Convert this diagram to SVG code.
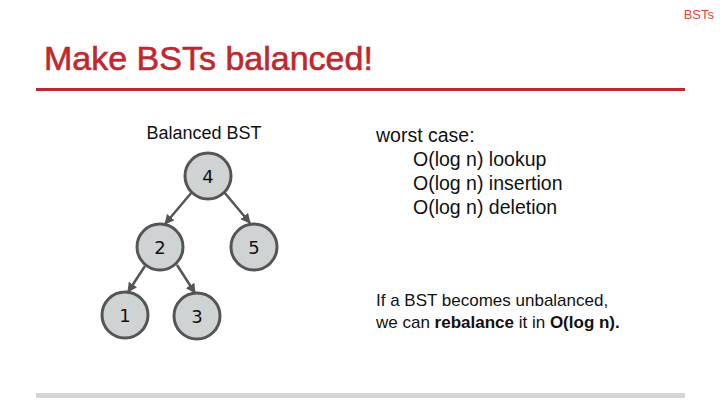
<svg xmlns="http://www.w3.org/2000/svg" width="720" height="405" viewBox="0 0 720 405">
<style>
.n circle{fill:#d0d3d3;stroke:#555;stroke-width:3}
.n text{font-family:"DejaVu Sans",sans-serif;font-size:18px;fill:#111;text-anchor:middle;dominant-baseline:central}
.e line{stroke:#555;stroke-width:2.5}
.t{font-family:"Liberation Sans",Arial,sans-serif;fill:#111}
</style>
<defs><marker id="a" viewBox="0 0 10 10" refX="9" refY="5" markerWidth="4" markerHeight="4" orient="auto"><path d="M0,0L10,5L0,10z" fill="#555"/></marker></defs>
<rect width="720" height="405" fill="#fff"/>
<text x="714" y="19" font-family="Liberation Sans,Arial,sans-serif" font-size="13" fill="#e0443e" text-anchor="end">BSTs</text>
<text x="44" y="70" font-family="Liberation Sans,Arial,sans-serif" font-size="34" fill="#c0282d" stroke="#c0282d" stroke-width="0.6">Make BSTs balanced!</text>
<rect x="36" y="88" width="649" height="3" fill="#c0282d"/>
<rect x="36" y="393" width="649" height="5" fill="#d4d6d6"/>
<text class="t" x="204" y="139" font-size="18" text-anchor="middle">Balanced BST</text>
<g class="e">
<line x1="192" y1="192" x2="165" y2="224" marker-end="url(#a)"/>
<line x1="224" y1="192" x2="250" y2="223" marker-end="url(#a)"/>
<line x1="145" y1="266" x2="128" y2="292" marker-end="url(#a)"/>
<line x1="177" y1="265" x2="195" y2="293" marker-end="url(#a)"/>
</g>
<g id="n4" class="n"><circle cx="208" cy="176" r="23"/><text x="208" y="176">4</text></g>
<g id="n2" class="n"><circle cx="160" cy="247" r="23"/><text x="160" y="247">2</text></g>
<g id="n5" class="n"><circle cx="254" cy="247" r="23"/><text x="254" y="247">5</text></g>
<g id="n1" class="n"><circle cx="125" cy="315" r="23"/><text x="125" y="315">1</text></g>
<g id="n3" class="n"><circle cx="197" cy="316" r="23"/><text x="197" y="316">3</text></g>
<text class="t" x="376" y="142" font-size="19.5">worst case:</text>
<text class="t" x="413" y="166" font-size="19.5">O(log n) lookup</text>
<text class="t" x="413" y="190" font-size="19.5">O(log n) insertion</text>
<text class="t" x="413" y="214" font-size="19.5">O(log n) deletion</text>
<text class="t" x="376" y="306" font-size="17">If a BST becomes unbalanced,</text>
<text class="t" x="376" y="328" font-size="17">we can <tspan font-weight="bold">rebalance</tspan> it in <tspan font-weight="bold">O(log n).</tspan></text>
</svg>
